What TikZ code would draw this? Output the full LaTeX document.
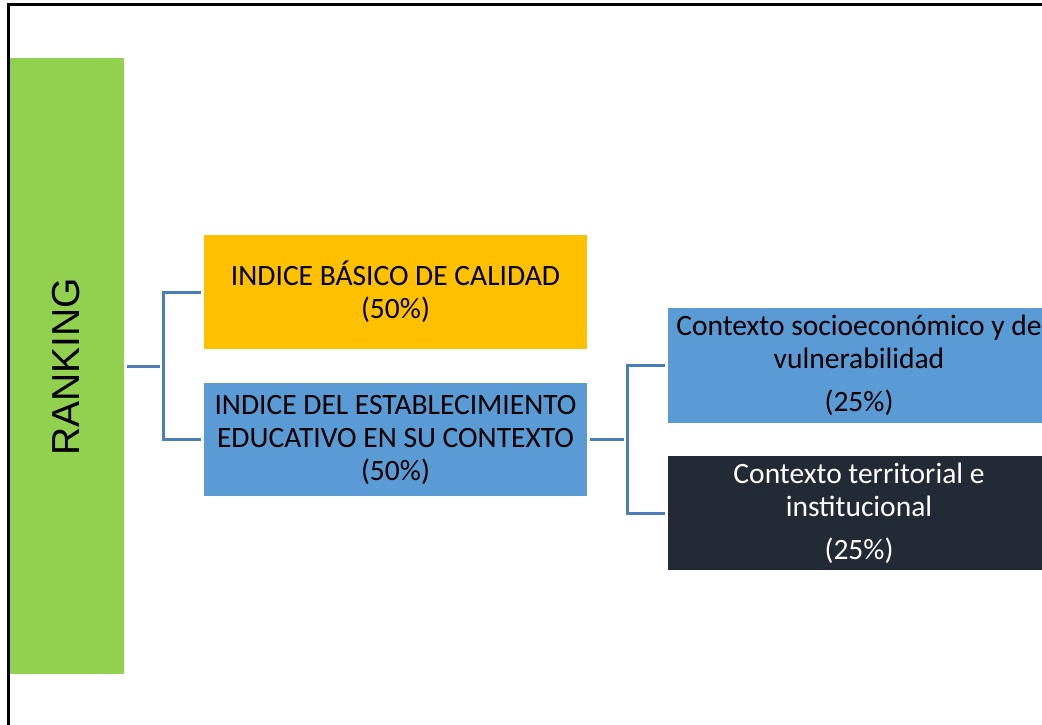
\documentclass[tikz,border=0pt]{standalone}
\usepackage{fontspec}
\usepackage{xcolor}
\usepackage{tikz}
\usetikzlibrary{positioning}
\setmainfont{Carlito}
\newfontfamily\rankfont{Liberation Sans}
\definecolor{rankgreen}{HTML}{92D050}
\definecolor{basicyellow}{HTML}{FFC000}
\definecolor{ctxblue}{HTML}{5B9BD5}
\definecolor{ctxdark}{HTML}{222A35}
\definecolor{linkblue}{HTML}{4A7EBB}

\begin{document}
\begin{tikzpicture}[
    x=1pt, y=-1pt,
    box/.style={
        rectangle,
        inner sep=0pt,
        minimum width=383pt,
        minimum height=114pt,
        align=center,
        font=\fontsize{29.5}{33}\selectfont
    },
    link/.style={
        draw=linkblue,
        line width=3pt,
        shorten <=3pt,
        shorten >=3pt
    }
]
\useasboundingbox (0,0) rectangle (1042,725);
\clip (0,0) rectangle (1042,725);
\draw[line width=3pt] (8,5) rectangle (1060,740);

\node[rectangle, fill=rankgreen, minimum width=114pt, minimum height=616pt, inner sep=0pt] (rank) at (67,366) {};
\node[rotate=90, font=\rankfont\fontsize{39}{44}\selectfont] (ranktext) at (66,367) {RANKING};

\node[box, fill=basicyellow] (basic) at (395.5,292) {INDICE BÁSICO DE CALIDAD\\(50\%)};

\node[box, fill=ctxblue, minimum height=113pt] (school) at (395.5,439.5) {INDICE DEL ESTABLECIMIENTO\\EDUCATIVO EN SU CONTEXTO\\(50\%)};

\node[box, fill=ctxblue, minimum width=382pt, minimum height=115pt] (socio) at (859,365.5) {Contexto socioeconómico y de\\vulnerabilidad\\[10pt](25\%)};

\node[box, fill=ctxdark, text=white, minimum width=382pt] (territ) at (859,513) {Contexto territorial e\\institucional\\[10pt](25\%)};

\coordinate (forkA) at (163,366);
\coordinate (forkB) at (627,439.5);

\draw[link] (rank.east) -- (forkA);
\draw[link, shorten <=0pt] (forkA) |- (basic.west);
\draw[link, shorten <=0pt] (forkA) |- (school.west);

\draw[link] (school.east) -- (forkB);
\draw[link, shorten <=0pt] (forkB) |- (socio.west);
\draw[link, shorten <=0pt] (forkB) |- (territ.west);

\end{tikzpicture}
\end{document}
